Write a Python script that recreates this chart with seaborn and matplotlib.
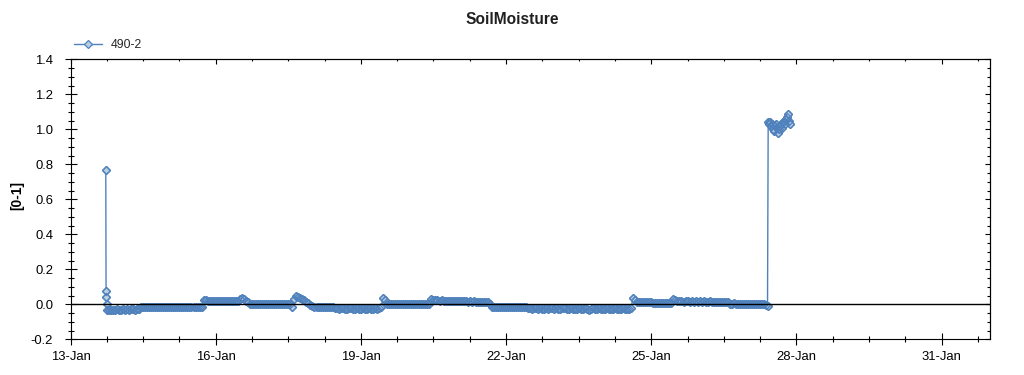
import numpy as np
import pandas as pd
import matplotlib
matplotlib.use("Agg")
import matplotlib.pyplot as plt
import matplotlib.dates as mdates
from matplotlib.ticker import FixedLocator, MultipleLocator, FormatStrFormatter, NullFormatter
import seaborn as sns

# ---------------- data ----------------
title = "SoilMoisture"
y_label = "[0-1]"
series_name = "490-2"

spike_times = ["2014-01-13 17:30", "2014-01-13 17:38", "2014-01-13 17:45", "2014-01-13 17:52"]
spike_values = [0.765, 0.078, 0.044, 0.0]

hourly_start = "2014-01-13 18:00"
day13 = [-0.030, -0.032, -0.031, -0.030, -0.031, -0.029]
day14 = [-0.030, -0.031, -0.029, -0.030, -0.028, -0.030, -0.029, -0.028, -0.030, -0.027, -0.025,
         -0.018, -0.017, -0.016, -0.018, -0.017, -0.016, -0.017, -0.015, -0.017, -0.016, -0.018, -0.017, -0.016]
day15 = [-0.016, -0.017, -0.018, -0.016, -0.017, -0.016, -0.018, -0.017, -0.016, -0.017, -0.018, -0.016,
         -0.017, -0.016, -0.017, -0.018, -0.017, -0.014, 0.026, 0.022, 0.020, 0.021, 0.019, 0.020]
day16 = [0.020, 0.019, 0.021, 0.020, 0.019, 0.018, 0.020, 0.019, 0.018, 0.019, 0.018, 0.019,
         0.030, 0.036, 0.028, 0.020, 0.012, 0.004, 0.003, 0.002, 0.004, 0.003, 0.002, 0.003]
day17 = [0.003, 0.002, 0.004, 0.003, 0.002, 0.003, 0.001, 0.002, 0.003, 0.002, 0.001, 0.002, 0.003, 0.002,
         -0.015, 0.028, 0.046, 0.042, 0.036, 0.030, 0.024, 0.015, 0.008, -0.005]
day18 = [-0.012, -0.014, -0.013, -0.015, -0.014, -0.013, -0.015, -0.014, -0.016, -0.015, -0.018,
         -0.023, -0.024, -0.025, -0.023, -0.024, -0.026, -0.025, -0.024, -0.023, -0.025, -0.026, -0.024, -0.025]
day19 = [-0.025, -0.024, -0.026, -0.025, -0.024, -0.025, -0.026, -0.024, -0.025, -0.023,
         -0.016, 0.038, 0.022, 0.004, 0.002, 0.003, 0.001, 0.002, 0.003, 0.002, 0.001, 0.003, 0.002, 0.001]
day20 = [0.002, 0.003, 0.001, 0.002, 0.003, 0.002, 0.001, 0.002, 0.003, 0.002, 0.003,
         0.030, 0.024, 0.022, 0.023, 0.021, 0.022, 0.020, 0.021, 0.020, 0.019, 0.020, 0.018, 0.019]
day21 = [0.018, 0.017, 0.018, 0.016, 0.017, 0.015, 0.016, 0.015, 0.016, 0.014, 0.015, 0.014, 0.013, 0.014,
         0.013, 0.012, 0.002, -0.014, -0.015, -0.013, -0.015, -0.014, -0.016, -0.015]
day22 = [-0.015, -0.016, -0.014, -0.016, -0.015, -0.017, -0.016, -0.015, -0.017, -0.016, -0.018,
         -0.023, -0.024, -0.025, -0.024, -0.023, -0.025, -0.024, -0.026, -0.025, -0.024, -0.025, -0.023, -0.024]
day23 = [-0.025, -0.024, -0.026, -0.025, -0.024, -0.024, -0.025, -0.026, -0.024, -0.025, -0.026, -0.025,
         -0.024, -0.026, -0.025, -0.024, -0.025, -0.031, -0.025, -0.024, -0.026, -0.025, -0.024, -0.025]
day24 = [-0.025, -0.026, -0.024, -0.025, -0.026, -0.025, -0.024, -0.026, -0.025, -0.026, -0.024, -0.025,
         -0.026, -0.025, -0.022, 0.038, 0.026, 0.014, 0.013, 0.012, 0.013, 0.012, 0.011, 0.012]
day25 = [0.011, 0.010, 0.009, 0.010, 0.009, 0.008, 0.009, 0.008, 0.007, 0.008,
         0.010, 0.033, 0.022, 0.017, 0.016, 0.017, 0.015, 0.016, 0.017, 0.015, 0.016, 0.015, 0.016, 0.015]
day26 = [0.016, 0.015, 0.016, 0.014, 0.015, 0.016, 0.014, 0.015, 0.014, 0.013, 0.015, 0.014, 0.013, 0.014,
         0.012, 0.004, 0.003, 0.005, 0.004, 0.003, 0.004, 0.002, 0.003, 0.004]
day27 = [0.003, 0.002, 0.004, 0.003, 0.002, 0.001, 0.002, 0.001, 0.000, -0.002]

jump_time = "2014-01-27 09:40"
jump_value = -0.008

cluster_start = "2014-01-27 10:00"
cluster_values = [1.04, 1.03, 1.04, 1.02, 1.03, 1.00, 0.99, 1.02, 1.03, 1.01, 0.98, 1.00,
                  1.02, 1.03, 1.01, 1.04, 1.05, 1.03, 1.06, 1.07, 1.09, 1.05, 1.03]

x_start = "2014-01-13"
x_end = "2014-02-01"
major_days = ["2014-01-13", "2014-01-16", "2014-01-19", "2014-01-22", "2014-01-25", "2014-01-28", "2014-01-31"]

# ---------------- assemble ----------------
hourly_values = (day13 + day14 + day15 + day16 + day17 + day18 + day19 + day20 + day21 +
                 day22 + day23 + day24 + day25 + day26 + day27)
hourly_times = pd.date_range(hourly_start, periods=len(hourly_values), freq="1h")
cluster_times = pd.date_range(cluster_start, periods=len(cluster_values), freq="30min")

df = pd.DataFrame({
    "time": list(pd.to_datetime(spike_times)) + list(hourly_times) + [pd.Timestamp(jump_time)] + list(cluster_times),
    "value": spike_values + hourly_values + [jump_value] + cluster_values,
})

# ---------------- style ----------------
sns.set_theme(style="white")
plt.rcParams["font.family"] = ["Liberation Sans", "DejaVu Sans"]
plt.rcParams["axes.unicode_minus"] = False

line_color = "#4F81BD"
face_color = "#B7CDE0"

fig = plt.figure(figsize=(10.24, 3.75), dpi=100)
ax = fig.add_axes([70.5 / 1024, 35.7 / 375, (990 - 70.5) / 1024, 280 / 375])
ax.set_facecolor("white")

# line + light-faced diamond markers
sns.lineplot(data=df, x="time", y="value", ax=ax, estimator=None, sort=False,
             color=line_color, linewidth=1.0, marker="D", markersize=3.9,
             markerfacecolor=face_color, markeredgecolor=line_color, markeredgewidth=0.9,
             label=series_name, zorder=3)
# marker outlines drawn above all faces (as the original renderer does)
sns.lineplot(data=df, x="time", y="value", ax=ax, estimator=None, sort=False,
             color=line_color, linestyle="None", marker="D", markersize=3.9,
             markerfacecolor="none", markeredgecolor=line_color, markeredgewidth=0.9,
             legend=False, zorder=4)

ax.axhline(0, color="black", linewidth=1.0, zorder=5)

# axes limits / ticks
ax.set_xlim(mdates.date2num(pd.Timestamp(x_start)), mdates.date2num(pd.Timestamp(x_end)))
ax.set_ylim(-0.2, 1.4)

major_locs = [mdates.date2num(pd.Timestamp(d)) for d in major_days]
x0 = mdates.date2num(pd.Timestamp(x_start))
minor_locs = [x0 + 0.75 * k for k in range(26)]
ax.xaxis.set_major_locator(FixedLocator(major_locs))
ax.xaxis.set_minor_locator(FixedLocator(minor_locs))
ax.xaxis.set_major_formatter(mdates.DateFormatter("%d-%b"))
ax.yaxis.set_major_locator(MultipleLocator(0.2))
ax.yaxis.set_minor_locator(MultipleLocator(0.05))
ax.yaxis.set_major_formatter(FormatStrFormatter("%.1f"))

ax.tick_params(axis="both", which="major", direction="inout", length=9, width=0.8,
               color="black", labelsize=9.4, labelcolor="black")
ax.tick_params(axis="both", which="minor", direction="inout", length=3.8, width=0.8, color="black")
ax.tick_params(axis="y", which="major", pad=8)
ax.tick_params(axis="x", which="major", pad=4)
ax.tick_params(bottom=True, left=True, which="both")

for s in ax.spines.values():
    s.set_color("black")
    s.set_linewidth(0.8)

ax.set_xlabel("")
ax.set_ylabel("")

# top/right inward ticks
top = ax.secondary_xaxis("top")
top.xaxis.set_major_locator(FixedLocator(major_locs))
top.xaxis.set_minor_locator(FixedLocator(minor_locs))
top.xaxis.set_major_formatter(NullFormatter())
top.tick_params(which="major", direction="in", length=3.8, width=0.8, color="black")
top.tick_params(which="minor", direction="in", length=1.6, width=0.8, color="black")
top.spines["top"].set_linewidth(0.8)
top.spines["top"].set_color("black")

right = ax.secondary_yaxis("right")
right.yaxis.set_major_locator(MultipleLocator(0.2))
right.yaxis.set_minor_locator(MultipleLocator(0.05))
right.yaxis.set_major_formatter(NullFormatter())
right.tick_params(which="major", direction="in", length=3.5, width=0.8, color="black")
right.tick_params(which="minor", direction="in", length=2.2, width=0.8, color="black")
right.spines["right"].set_linewidth(0.8)
right.spines["right"].set_color("black")

# legend
ax.legend(loc="center left", bbox_to_anchor=(74 / 1024, 1 - 45 / 375), bbox_transform=fig.transFigure,
          frameon=False, fontsize=8.8, handlelength=2.3, handletextpad=0.7, borderpad=0, borderaxespad=0)

# title & y-label
fig.text(0.5, 1 - 20 / 375, title, ha="center", va="center", fontsize=11.2, fontweight="bold", color="#202020")
fig.text(17 / 1024, 1 - 196 / 375, y_label, ha="center", va="center", rotation=90,
         fontsize=10, fontweight="bold", color="black")

fig.savefig("out.png", dpi=100, facecolor="white")
